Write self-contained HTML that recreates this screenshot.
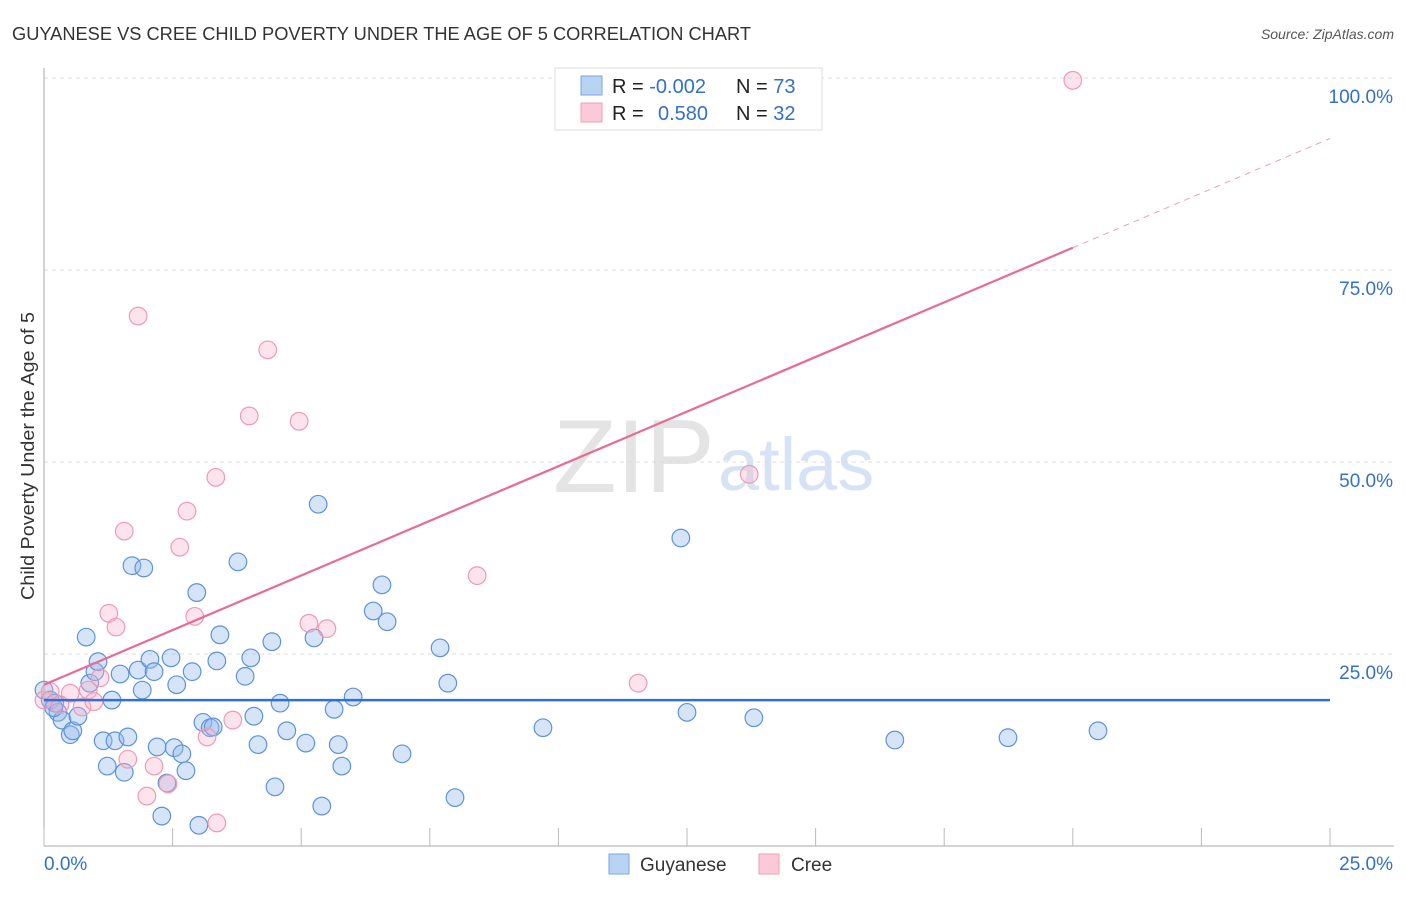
<!DOCTYPE html>
<html><head><meta charset="utf-8"><style>
body{margin:0;background:#fff;font-family:"Liberation Sans",sans-serif}
svg text{font-family:"Liberation Sans",sans-serif}
</style></head><body>
<svg id="c" width="1406" height="892" xmlns="http://www.w3.org/2000/svg">
<text x="12" y="40" font-size="18" fill="#333" textLength="739" lengthAdjust="spacingAndGlyphs">GUYANESE VS CREE CHILD POVERTY UNDER THE AGE OF 5 CORRELATION CHART</text>
<text x="1394" y="39" font-size="14" fill="#555" text-anchor="end" font-style="italic">Source: ZipAtlas.com</text>
<text x="34" y="456" font-size="18" fill="#333" text-anchor="middle" textLength="288" lengthAdjust="spacingAndGlyphs" transform="rotate(-90 34 456)">Child Poverty Under the Age of 5</text>
<text x="553" y="492" font-size="104" fill="#e4e4e4" font-family="Liberation Serif">ZIP</text>
<text x="718" y="490" font-size="74" fill="#d6e3f4">atlas</text>
<g id="grid"></g><g id="pts"></g><g id="lines"></g>
<g>
<rect x="555" y="68" width="267" height="62" fill="#fff" stroke="#ddd"/>
<rect x="581" y="76" width="21" height="19" fill="#b9d3f3" stroke="#7aa6e0"/>
<rect x="581" y="103" width="21" height="19" fill="#fbc9d8" stroke="#ef9fb9"/>
<text x="612" y="93" font-size="20" fill="#222">R = <tspan fill="#3370cc">-0.002</tspan></text>
<text x="736" y="93" font-size="20" fill="#222">N = <tspan fill="#3370cc">73</tspan></text>
<text x="612" y="120" font-size="20" fill="#222">R = <tspan fill="#3370cc" x="658">0.580</tspan></text>
<text x="736" y="120" font-size="20" fill="#222">N = <tspan fill="#3370cc">32</tspan></text>
</g>
<g>
<rect x="609" y="854" width="20" height="20" fill="#b9d3f3" stroke="#7aa6e0"/>
<text x="640" y="871" font-size="19" fill="#333">Guyanese</text>
<rect x="759" y="854" width="20" height="20" fill="#fbc9d8" stroke="#ef9fb9"/>
<text x="791" y="871" font-size="19" fill="#333">Cree</text>
</g>
</svg>
<script>
const yTicks=[25,50,75,100];
const yTickLabels=["25.0%","50.0%","75.0%","100.0%"];
const xTicks=[0,2.5,5,7.5,10,12.5,15,17.5,20,22.5,25];
const guyX=[0,0.12,0.21,0.27,0.35,0.51,0.56,0.66,0.82,0.89,0.99,1.05,1.15,1.23,1.32,1.38,1.48,1.56,1.63,1.71,1.83,1.91,1.94,2.06,2.14,2.20,2.29,2.39,2.47,2.53,2.58,2.68,2.76,2.88,2.97,3.01,3.09,3.23,3.29,3.36,3.42,3.77,3.91,4.02,4.08,4.16,4.43,4.49,4.59,4.72,5.09,5.25,5.33,5.40,5.64,5.72,5.79,6.01,6.40,6.57,6.67,6.96,7.70,7.85,7.99,9.70,12.38,12.50,13.80,16.54,18.74,20.49,0.19];
const guyY=[20.3,19.0,18.6,17.4,16.4,14.5,15.0,16.9,27.2,21.2,22.7,24.0,13.7,10.4,19.0,13.7,22.4,9.6,14.2,36.5,22.9,20.3,36.2,24.3,22.7,12.9,3.9,8.2,24.5,12.8,21.0,12.0,9.8,22.7,33.0,2.7,16.1,15.4,15.5,24.1,27.5,37.0,22.1,24.5,16.9,13.2,26.6,7.7,18.6,15.0,13.4,27.1,44.5,5.2,17.8,13.2,10.4,19.4,30.6,34.0,29.2,12.0,25.8,21.2,6.3,15.4,40.1,17.4,16.7,13.8,14.1,15.0,18.0];
const creeX=[0,0.12,0.51,0.74,0.86,0.97,1.09,1.26,1.40,1.56,1.63,1.83,2.00,2.14,2.41,2.64,2.78,2.93,3.17,3.34,3.36,3.67,3.99,4.35,4.96,5.15,5.50,8.42,11.55,13.71,20.00,0.31];
const creeY=[19.0,20.1,19.9,18.1,20.3,18.8,21.9,30.3,28.5,41.0,11.3,69.0,6.5,10.4,8.1,38.9,43.6,29.9,14.2,48.0,3.0,16.4,56.0,64.6,55.3,29.0,28.3,35.2,21.2,48.4,99.7,18.4];
const guyTrend=[19.0,19.0];
const creeTrend=[21.0,2.845];
const NS="http://www.w3.org/2000/svg";
const X=v=>44+v/25*1286, Y=v=>846-v*7.68;
function mk(t,a,p){const e=document.createElementNS(NS,t);for(const k in a)e.setAttribute(k,a[k]);p.appendChild(e);return e;}
const grid=document.getElementById('grid');
yTicks.forEach((t,i)=>{
 const l=mk('line',{x1:44,x2:1394,y1:Y(t),y2:Y(t),stroke:'#ddd','stroke-dasharray':'4,4'},grid);
 
 
 const tx=mk('text',{x:1393,y:Y(t)+25,'font-size':19,fill:'#3370cc','text-anchor':'end'},grid);
 tx.textContent=yTickLabels[i];
 
 
});
mk('line',{x1:44,x2:44,y1:68,y2:846,stroke:'#aaa'},grid);
mk('line',{x1:44,x2:1394,y1:846,y2:846,stroke:'#aaa'},grid);
xTicks.forEach(t=>{const l=mk('line',{x1:X(t),x2:X(t),y1:828,y2:846,stroke:'#bbb'},grid);
 
 });
const x0=mk('text',{x:44,y:870,'font-size':19,fill:'#3370cc'},grid);x0.textContent='0.0%';


const x1=mk('text',{x:1393,y:870,'font-size':19,fill:'#3370cc','text-anchor':'end'},grid);x1.textContent='25.0%';


const pts=document.getElementById('pts');
guyX.forEach((x,i)=>{const c=mk('circle',{cx:X(x),cy:Y(guyY[i]),r:8.8,fill:'rgba(150,188,236,0.4)',stroke:'#5d93dc','stroke-width':1.2},pts);
 
 });
creeX.forEach((x,i)=>{const c=mk('circle',{cx:X(x),cy:Y(creeY[i]),r:8.8,fill:'rgba(248,178,200,0.35)',stroke:'#ee9ab6','stroke-width':1.2},pts);
 
 });
const ln=document.getElementById('lines');
const b=mk('line',{x1:X(0),x2:X(25),y1:Y(guyTrend[0]),y2:Y(guyTrend[1]),stroke:'#2f6fd6','stroke-width':2.5},ln);


const cy=x=>creeTrend[0]+creeTrend[1]*x;
const p=mk('line',{x1:X(0),x2:X(20),y1:Y(cy(0)),y2:Y(cy(20)),stroke:'#e76b95','stroke-width':2.2},ln);


const pd=mk('line',{x1:X(20),x2:X(25),y1:Y(cy(20)),y2:Y(cy(25)),stroke:'#eaa0b8','stroke-width':1,'stroke-dasharray':'6,5'},ln);


</script>
</body></html>
